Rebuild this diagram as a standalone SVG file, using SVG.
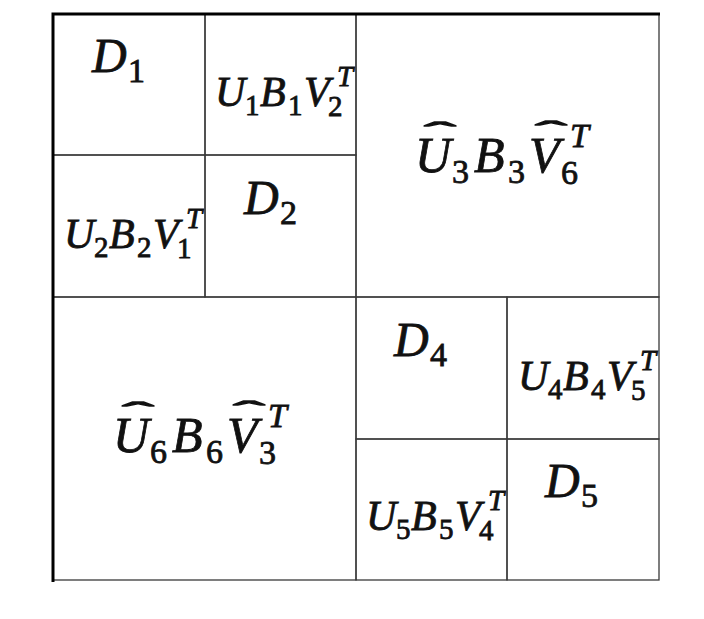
<svg xmlns="http://www.w3.org/2000/svg" width="704" height="619" viewBox="0 0 704 619">
<style>
.cell{fill:none;stroke:#3a3a3a;stroke-width:1.3}
.frame{fill:none;stroke:#000;stroke-width:3}
text{font-family:"Liberation Serif","DejaVu Serif",serif;font-style:italic;fill:#111;stroke:#111;stroke-width:0.8}
.d{font-size:48px}
.s{font-size:42px}
.b{font-size:50px}
.n{font-style:normal}
.h{font-style:normal;font-size:28px;stroke-width:1.4}
</style>
<rect width="704" height="619" fill="#fff"/>
<g id="grid">
<g id="cell-D1"><rect class="cell" x="53" y="14" width="152" height="141"/>
<text class="d"><tspan x="92" y="72">D</tspan><tspan class="n" x="128" y="82" font-size="34">1</tspan></text></g>
<g id="cell-U1B1V2T"><rect class="cell" x="205" y="14" width="151" height="141"/>
<text class="s"><tspan x="215" y="106">U</tspan><tspan class="n" x="245" y="115" font-size="29">1</tspan><tspan x="260" y="106">B</tspan><tspan class="n" x="288" y="115" font-size="29">1</tspan><tspan x="304" y="106">V</tspan><tspan class="n" x="328" y="116" font-size="29">2</tspan><tspan x="337" y="86" font-size="29">T</tspan></text></g>
<g id="cell-U2B2V1T"><rect class="cell" x="53" y="155" width="152" height="142"/>
<text class="s"><tspan x="64" y="248">U</tspan><tspan class="n" x="94" y="257" font-size="29">2</tspan><tspan x="109" y="248">B</tspan><tspan class="n" x="137" y="257" font-size="29">2</tspan><tspan x="153" y="248">V</tspan><tspan class="n" x="177" y="258" font-size="29">1</tspan><tspan x="186" y="228" font-size="29">T</tspan></text></g>
<g id="cell-D2"><rect class="cell" x="205" y="155" width="151" height="142"/>
<text class="d"><tspan x="244" y="214">D</tspan><tspan class="n" x="280" y="224" font-size="34">2</tspan></text></g>
<g id="cell-U3B3V6T"><rect class="cell" x="356" y="14" width="303" height="283"/>
<text class="b"><tspan x="415" y="172">U</tspan><tspan class="h" x="425" y="141" textLength="30" lengthAdjust="spacingAndGlyphs">ˆ</tspan><tspan class="n" x="452" y="183" font-size="34">3</tspan><tspan x="474" y="172">B</tspan><tspan class="n" x="508" y="183" font-size="34">3</tspan><tspan x="529" y="172">V</tspan><tspan class="h" x="536" y="140" textLength="30" lengthAdjust="spacingAndGlyphs">ˆ</tspan><tspan class="n" x="561" y="184" font-size="34">6</tspan><tspan x="570" y="147" font-size="34">T</tspan></text></g>
<g id="cell-U6B6V3T"><rect class="cell" x="53" y="297" width="303" height="283"/>
<text class="b"><tspan x="113" y="452">U</tspan><tspan class="h" x="123" y="421" textLength="30" lengthAdjust="spacingAndGlyphs">ˆ</tspan><tspan class="n" x="150" y="463" font-size="34">6</tspan><tspan x="172" y="452">B</tspan><tspan class="n" x="206" y="463" font-size="34">6</tspan><tspan x="227" y="452">V</tspan><tspan class="h" x="234" y="420" textLength="30" lengthAdjust="spacingAndGlyphs">ˆ</tspan><tspan class="n" x="259" y="464" font-size="34">3</tspan><tspan x="268" y="427" font-size="34">T</tspan></text></g>
<g id="cell-D4"><rect class="cell" x="356" y="297" width="151" height="142"/>
<text class="d"><tspan x="394" y="356">D</tspan><tspan class="n" x="430" y="366" font-size="34">4</tspan></text></g>
<g id="cell-U4B4V5T"><rect class="cell" x="507" y="297" width="152" height="142"/>
<text class="s"><tspan x="518" y="390">U</tspan><tspan class="n" x="548" y="399" font-size="29">4</tspan><tspan x="563" y="390">B</tspan><tspan class="n" x="591" y="399" font-size="29">4</tspan><tspan x="607" y="390">V</tspan><tspan class="n" x="631" y="400" font-size="29">5</tspan><tspan x="640" y="370" font-size="29">T</tspan></text></g>
<g id="cell-U5B5V4T"><rect class="cell" x="356" y="439" width="151" height="141"/>
<text class="s"><tspan x="366" y="530">U</tspan><tspan class="n" x="396" y="539" font-size="29">5</tspan><tspan x="411" y="530">B</tspan><tspan class="n" x="439" y="539" font-size="29">5</tspan><tspan x="455" y="530">V</tspan><tspan class="n" x="479" y="540" font-size="29">4</tspan><tspan x="488" y="510" font-size="29">T</tspan></text></g>
<g id="cell-D5"><rect class="cell" x="507" y="439" width="152" height="141"/>
<text class="d"><tspan x="545" y="497">D</tspan><tspan class="n" x="581" y="507" font-size="34">5</tspan></text></g>
</g>
<g id="frame"><path class="frame" d="M53,582 V14 H660"/></g>
<g id="connectors"/>
</svg>
